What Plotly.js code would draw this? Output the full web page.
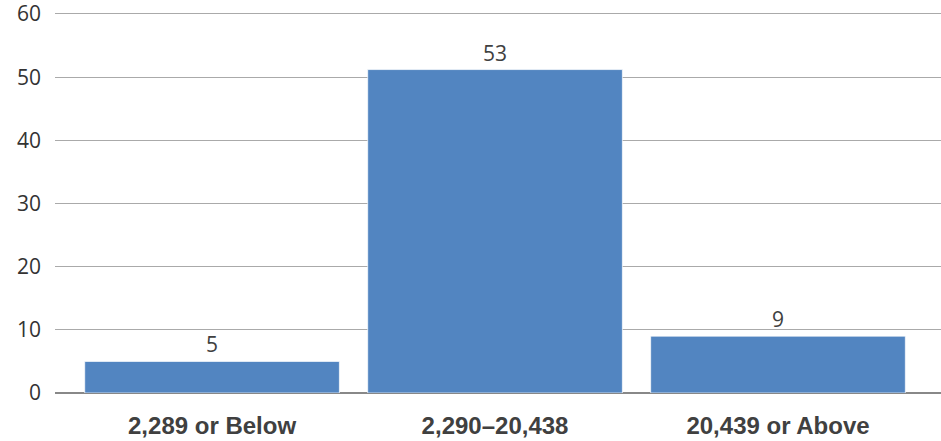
<!DOCTYPE html>
<html>
<head>
<meta charset="utf-8">
<script src="https://cdn.plot.ly/plotly-3.0.1.min.js"></script>
<style>html,body{margin:0;padding:0;background:#fff;}#chart{width:941px;height:441px;}</style>
</head>
<body>
<div id="chart"></div>
<script>
const categories = ["2,289 or Below", "2,290\u201320,438", "20,439 or Above"];
const barHeights = [5, 51.2, 9];
const valueLabels = ["5", "53", "9"];
const yTicks = [0, 10, 20, 30, 40, 50, 60];

const trace = {
  type: "bar",
  x: categories,
  y: barHeights,
  text: valueLabels,
  textposition: "outside",
  cliponaxis: false,
  textfont: {family: "Open Sans, sans-serif", size: 21, color: "#404040"},
  marker: {color: "#5285c1", line: {color: "rgba(255,255,255,0.7)", width: 1}},
  hoverinfo: "none"
};

const layout = {
  width: 941, height: 441,
  margin: {l: 55, r: 0, t: 4, b: 48},
  paper_bgcolor: "#fff", plot_bgcolor: "#fff",
  bargap: 0.1,
  showlegend: false,
  xaxis: {
    range: [-0.555, 2.576],
    showgrid: false, zeroline: false, showline: false,
    ticks: "", ticklabelstandoff: 16,
    tickfont: {family: "Liberation Sans Narrow, Arial Narrow, sans-serif", size: 24, color: "#404040", weight: "bold"}
  },
  yaxis: {
    range: [0, 61.58], tickvals: yTicks, ticktext: yTicks.map(String),
    showgrid: true, gridcolor: "#aaaaaa", gridwidth: 1,
    zeroline: true, zerolinecolor: "#888", zerolinewidth: 1.5,
    showline: false, ticks: "", ticklabelstandoff: 13, ticklabeloverflow: "allow",
    tickfont: {family: "Open Sans, sans-serif", size: 21, color: "#333"}
  }
};

Plotly.newPlot("chart", [trace], layout, {staticPlot: true, displayModeBar: false});
</script>
</body>
</html>
